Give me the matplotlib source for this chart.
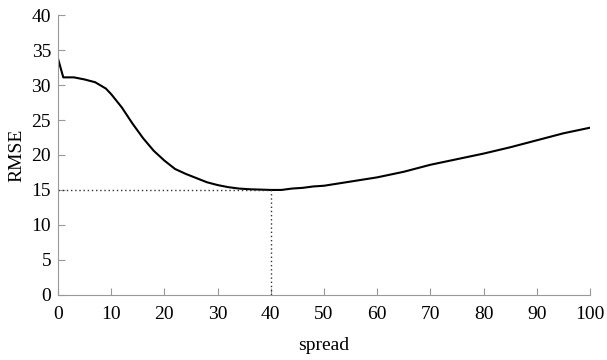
import matplotlib
matplotlib.use("Agg")
import matplotlib.pyplot as plt

# RMSE vs spread
spread = [0, 1, 3, 5, 7, 9, 10, 12, 14, 16, 18, 20, 22, 24, 26, 28, 30, 32, 34,
          36, 38, 40, 42, 44, 46, 48, 50, 55, 60, 65, 70, 75, 80, 85, 90, 95, 100]
rmse = [33.8, 31.1, 31.1, 30.8, 30.4, 29.5, 28.7, 26.8, 24.5, 22.4, 20.6, 19.2,
        18.0, 17.3, 16.7, 16.1, 15.7, 15.4, 15.2, 15.1, 15.05, 15.0, 15.0, 15.2,
        15.3, 15.5, 15.6, 16.2, 16.8, 17.6, 18.6, 19.4, 20.2, 21.1, 22.1, 23.1, 23.9]
best_spread = 40
best_rmse = 15

plt.rcParams['font.family'] = ['Liberation Serif', 'DejaVu Serif']
plt.rcParams['font.size'] = 14

fig = plt.figure(figsize=(6.07, 3.6), dpi=100)
ax = fig.add_axes([0.0955, 0.181, 0.8765, 0.777])

ax.plot(spread, rmse, color='black', lw=1.5)
ax.plot([0, best_spread], [best_rmse, best_rmse], color='#333333', lw=1, ls=(0, (1, 2)))
ax.plot([best_spread, best_spread], [0, best_rmse], color='#333333', lw=1, ls=(0, (1, 2)))

ax.set_xlim(0, 100)
ax.set_ylim(0, 40)
ax.set_xticks(range(0, 101, 10))
ax.set_yticks(range(0, 41, 5))
for s in ['top', 'right']:
    ax.spines[s].set_visible(False)
for s in ['left', 'bottom']:
    ax.spines[s].set_color('#999999')
ax.tick_params(direction='in', length=5, color='#999999', labelcolor='black')
ax.tick_params(axis='x', pad=8)
ax.tick_params(axis='y', pad=5)
ax.set_xlabel('spread', labelpad=10)
ax.set_ylabel('RMSE', labelpad=4)

fig.savefig('out.png', dpi=100)
